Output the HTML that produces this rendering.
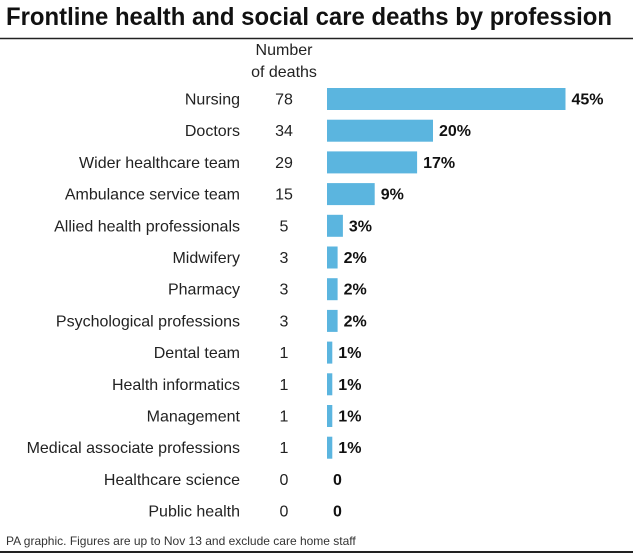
<!DOCTYPE html>
<html><head><meta charset="utf-8"><style>
body{margin:0;background:#fff;font-family:"Liberation Sans",Arial,sans-serif;}
#wrap{position:relative;width:640px;height:554px;overflow:hidden;}
</style></head><body>
<div id="wrap">
<svg width="640" height="554" xmlns="http://www.w3.org/2000/svg" id="svg">
<text x="6" y="25" font-size="25" font-weight="bold" fill="#111" textLength="606" lengthAdjust="spacingAndGlyphs">Frontline health and social care deaths by profession</text>
<line x1="0" y1="38.5" x2="633" y2="38.5" stroke="#222" stroke-width="1.5"/>
<text x="284" y="55" font-size="16" text-anchor="middle" fill="#222">Number</text>
<text x="284" y="77" font-size="16" text-anchor="middle" fill="#222">of deaths</text>
<g id="rows"></g>
<text x="6" y="545" font-size="12" fill="#333">PA graphic. Figures are up to Nov 13 and exclude care home staff</text>
<line x1="0" y1="552" x2="633" y2="552" stroke="#222" stroke-width="2"/>
</svg>
</div>
<script>
const categories=["Nursing","Doctors","Wider healthcare team","Ambulance service team","Allied health professionals","Midwifery","Pharmacy","Psychological professions","Dental team","Health informatics","Management","Medical associate professions","Healthcare science","Public health"];
const counts=[78,34,29,15,5,3,3,3,1,1,1,1,0,0];
const percents=[45,20,17,9,3,2,2,2,1,1,1,1,0,0];
const NS="http://www.w3.org/2000/svg";
const g=document.getElementById('rows');
const x0=327, pxPerPct=5.3;
function xScale(v){return x0+v*pxPerPct;}
function yScale(i){return 99+i*31.7;}
function mk(tag,attrs){const e=document.createElementNS(NS,tag);for(const k in attrs)e.setAttribute(k,attrs[k]);g.appendChild(e);return e;}
categories.forEach((c,i)=>{
 const y=yScale(i);
 const l=mk('text',{x:240,y:y+5.5,'font-size':16,'text-anchor':'end',fill:'#222'});
 l.textContent=c;
 
 
 const n=mk('text',{x:284,y:y+5.5,'font-size':16,'text-anchor':'middle',fill:'#222'});
 n.textContent=counts[i];
 
 
 const v=percents[i];
 let end=x0;
 if(v>0){
  const w=Math.max(xScale(v)-x0,4.5);
  const r=mk('rect',{x:x0,y:y-11,width:w,height:22,fill:'#5bb5df'});
  
  
  end=x0+w;
 }
 const p=mk('text',{x:end+6,y:y+5.5,'font-size':16,'font-weight':'bold',fill:'#111'});
 p.textContent=v>0?v+'%':'0';
 
 
});
</script>
</body></html>
